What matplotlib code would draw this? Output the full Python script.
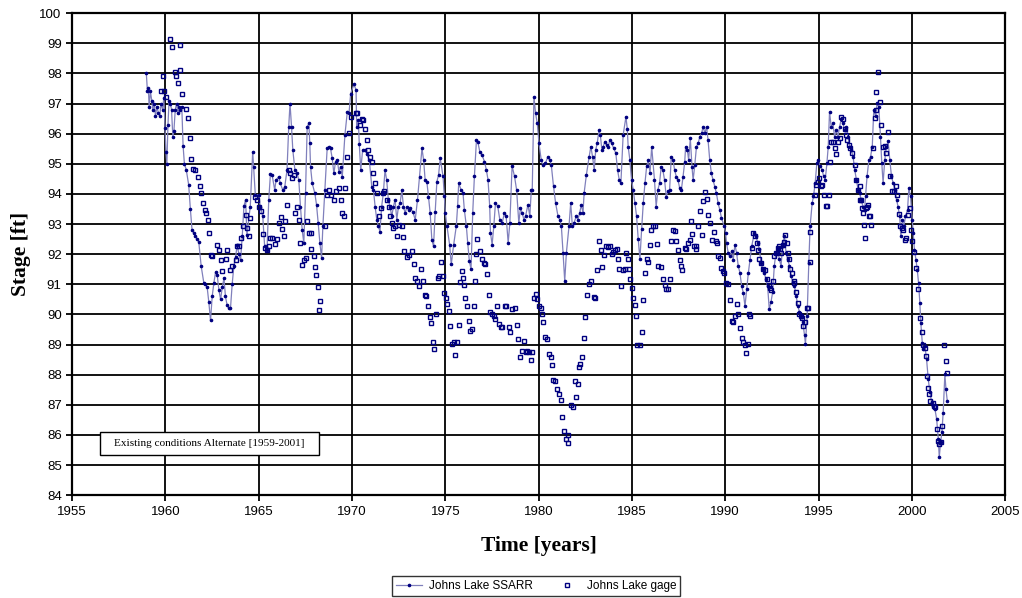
import matplotlib
matplotlib.use("Agg")
import matplotlib.pyplot as plt
from matplotlib.patches import Rectangle

# Johns Lake SSARR (simulated stage, ft)
ssarr_year = [
    1958.98, 1959.04, 1959.09, 1959.13, 1959.20, 1959.27, 1959.33, 1959.40, 1959.47, 1959.55,
    1959.62, 1959.70, 1959.77, 1959.85, 1959.92, 1959.98, 1960.03, 1960.08, 1960.14, 1960.20,
    1960.27, 1960.33, 1960.40, 1960.46, 1960.53, 1960.60, 1960.67, 1960.74, 1960.81, 1960.88,
    1960.95, 1961.02, 1961.12, 1961.25, 1961.34, 1961.43, 1961.52, 1961.61, 1961.70, 1961.79,
    1961.92, 1962.06, 1962.15, 1962.24, 1962.33, 1962.42, 1962.51, 1962.60, 1962.69, 1962.78,
    1962.87, 1962.96, 1963.05, 1963.14, 1963.22, 1963.31, 1963.40, 1963.49, 1963.58, 1963.67,
    1963.76, 1963.85, 1963.94, 1964.03, 1964.12, 1964.21, 1964.30,
    1964.37, 1964.55, 1964.68, 1964.73, 1964.82, 1965.00, 1965.09, 1965.22, 1965.32, 1965.45,
    1965.54, 1965.63, 1965.72, 1965.86, 1965.93, 1966.07, 1966.16, 1966.29, 1966.40, 1966.52,
    1966.61, 1966.68, 1966.76, 1966.83, 1966.94, 1967.06, 1967.15, 1967.24, 1967.33, 1967.42,
    1967.51, 1967.60, 1967.69, 1967.74, 1967.78, 1967.87, 1968.01, 1968.10, 1968.19, 1968.28,
    1968.37, 1968.44, 1968.55, 1968.67, 1968.76, 1968.85, 1968.94, 1969.03, 1969.12, 1969.21,
    1969.30, 1969.39, 1969.48, 1969.62, 1969.75, 1969.84, 1969.93,
    1970.11, 1970.22, 1970.25, 1970.34, 1970.39, 1970.47, 1970.57, 1970.70, 1970.79, 1970.93,
    1971.06, 1971.15, 1971.24, 1971.33, 1971.42, 1971.50, 1971.59, 1971.68, 1971.77, 1971.86,
    1971.95, 1972.04, 1972.13, 1972.22, 1972.31, 1972.40, 1972.49, 1972.58, 1972.67, 1972.76,
    1972.85, 1972.94, 1973.03, 1973.12, 1973.26, 1973.39, 1973.51, 1973.62, 1973.75, 1973.84,
    1973.92, 1974.01, 1974.10, 1974.19, 1974.28, 1974.37, 1974.46, 1974.55, 1974.64, 1974.73,
    1974.88, 1974.95, 1975.00, 1975.09, 1975.23, 1975.32, 1975.45, 1975.59, 1975.66, 1975.72,
    1975.84, 1975.95, 1976.02, 1976.13, 1976.20, 1976.29, 1976.38, 1976.47, 1976.56, 1976.67,
    1976.74, 1976.85, 1976.97, 1977.10, 1977.20, 1977.29, 1977.38, 1977.42, 1977.51, 1977.60,
    1977.69, 1977.81, 1977.92, 1978.05, 1978.17, 1978.26, 1978.37, 1978.46, 1978.58, 1978.71,
    1978.82, 1978.94, 1979.03, 1979.12, 1979.21, 1979.30, 1979.43, 1979.53, 1979.61, 1979.66,
    1979.75, 1979.84, 1979.93, 1980.02,
    1980.14, 1980.23, 1980.37, 1980.50, 1980.59, 1980.68, 1980.80, 1980.91, 1981.04, 1981.13,
    1981.22, 1981.31, 1981.40, 1981.49, 1981.63, 1981.72, 1981.81, 1981.90, 1982.02, 1982.11,
    1982.20, 1982.29, 1982.38, 1982.44, 1982.56, 1982.71, 1982.80, 1982.89, 1982.98, 1983.06,
    1983.14, 1983.24, 1983.31, 1983.39, 1983.46, 1983.55, 1983.64, 1983.73, 1983.82, 1983.91,
    1984.03, 1984.14, 1984.23, 1984.32, 1984.41, 1984.53, 1984.68, 1984.75, 1984.80, 1984.89,
    1984.98, 1985.07, 1985.16, 1985.25, 1985.34, 1985.43, 1985.52, 1985.61, 1985.70, 1985.79,
    1985.88, 1985.97, 1986.06,
    1986.21, 1986.30, 1986.39, 1986.48, 1986.57, 1986.66, 1986.75, 1986.84, 1986.93, 1987.02,
    1987.11, 1987.20, 1987.29, 1987.38, 1987.47, 1987.56, 1987.65, 1987.74, 1987.83, 1987.88,
    1987.97, 1988.04, 1988.13, 1988.22, 1988.28, 1988.37, 1988.46, 1988.55, 1988.64, 1988.73,
    1988.82, 1988.91, 1989.00, 1989.08, 1989.17, 1989.26, 1989.35, 1989.44, 1989.53, 1989.62,
    1989.71, 1989.80, 1989.95, 1990.02, 1990.07, 1990.16, 1990.25, 1990.34, 1990.43, 1990.52,
    1990.61, 1990.70, 1990.79, 1990.88, 1990.97, 1991.06, 1991.15, 1991.24, 1991.33, 1991.42,
    1991.56, 1991.65, 1991.74, 1991.83, 1991.92, 1992.00, 1992.09, 1992.18, 1992.27, 1992.36,
    1992.45, 1992.54, 1992.63, 1992.72, 1992.81, 1992.90, 1992.99, 1993.08, 1993.17, 1993.26,
    1993.35, 1993.44, 1993.53, 1993.62, 1993.71, 1993.80, 1993.89, 1993.98, 1994.07, 1994.16,
    1994.25, 1994.30, 1994.39, 1994.48, 1994.55, 1994.66, 1994.73, 1994.82, 1994.91, 1994.98,
    1995.09, 1995.20, 1995.27, 1995.36, 1995.45, 1995.52, 1995.59, 1995.68, 1995.77, 1995.86,
    1995.95, 1996.04, 1996.13, 1996.22, 1996.31, 1996.40, 1996.49, 1996.58, 1996.67, 1996.76,
    1996.85, 1996.94, 1997.03, 1997.12,
    1997.20, 1997.29, 1997.38, 1997.47, 1997.52, 1997.60, 1997.70, 1997.79, 1997.88, 1997.96,
    1998.06, 1998.14, 1998.23, 1998.32, 1998.39, 1998.46, 1998.55, 1998.64, 1998.73, 1998.82,
    1998.91, 1999.00, 1999.09, 1999.18, 1999.26, 1999.35, 1999.41, 1999.50, 1999.57, 1999.66,
    1999.77, 1999.84, 1999.93, 2000.02, 2000.07, 2000.14, 2000.22, 2000.29, 2000.36, 2000.43,
    2000.48, 2000.56, 2000.61, 2000.70, 2000.79, 2000.88, 2000.97, 2001.06, 2001.15, 2001.24,
    2001.33, 2001.42, 2001.47, 2001.54, 2001.61, 2001.68, 2001.77, 2001.83, 2001.90,
]
ssarr_stage = [
    98.0, 97.4, 97.5, 96.9, 97.4, 97.1, 96.8, 97.0, 96.6, 96.9,
    96.7, 96.6, 97.0, 96.8, 97.2, 96.2, 95.4, 95.0, 96.3, 97.1,
    97.0, 96.8, 95.9, 96.1, 96.8, 97.0, 96.7, 96.9, 96.8, 96.9,
    95.6, 95.0, 94.8, 94.3, 93.5, 92.8, 92.7, 92.6, 92.5, 92.4,
    91.6, 91.05, 91.0, 90.9, 90.4, 89.8, 90.6, 91.05, 91.4, 91.3,
    90.8, 90.5, 90.9, 91.2, 90.6, 90.3, 90.2, 90.2, 91.0, 91.6,
    91.9, 92.3, 92.0, 91.8, 92.6, 93.6, 93.8,
    92.64, 93.58, 95.40, 94.9, 93.97, 93.97, 93.58, 93.25, 92.26, 92.15,
    93.8, 94.66, 94.63, 94.13, 94.46, 94.57, 94.35, 94.13, 94.24, 94.8,
    96.23, 97.0, 96.23, 95.46, 94.8, 94.68, 94.46, 93.58, 92.81, 92.37,
    94.02, 96.23, 96.34, 95.68, 94.9, 94.35, 94.02, 93.64, 93.03, 92.37,
    91.87, 92.92, 94.13, 95.51, 95.57, 95.51, 95.18, 94.68, 95.07, 95.13,
    94.74, 94.9, 94.57, 95.95, 96.72, 96.67, 97.33,
    97.64, 97.44, 96.22, 96.45, 95.67, 94.79, 95.45, 95.45, 95.34, 95.12,
    94.24, 94.13, 93.58, 93.14, 92.92, 92.75, 93.58, 94.02, 94.79, 94.46,
    93.8, 93.58, 93.25, 93.58, 93.8, 93.14, 93.58, 93.69, 94.13, 93.58,
    93.36, 93.58, 93.47, 93.52, 93.41, 93.14, 93.8, 94.57, 95.51, 95.12,
    94.46, 94.41, 93.91, 93.36, 92.48, 92.26, 93.41, 94.41, 94.63, 95.18,
    94.58, 93.92, 93.37, 92.93, 92.32, 91.66, 92.32, 92.93, 93.59, 94.36,
    94.14, 94.03, 93.48, 92.93, 92.38, 91.77, 91.5, 93.37, 94.58, 95.79,
    95.73, 95.4, 95.29, 95.07, 94.8, 94.47, 93.59, 92.71, 92.32, 92.93,
    93.7, 93.59, 93.15, 93.04, 93.37, 93.26, 92.38, 93.04, 94.93, 94.58,
    94.14, 93.04, 93.53, 93.37, 93.15, 93.26, 93.64, 93.26, 94.14, 94.14,
    97.22, 96.67, 96.34, 95.68,
    95.13, 94.96, 95.02, 95.24, 95.13, 94.96, 94.25, 93.7, 93.26, 93.15,
    92.93, 92.05, 91.11, 92.05, 92.93, 93.7, 92.93, 93.04, 93.26, 93.15,
    93.37, 93.64, 93.37, 94.03, 94.63, 95.24, 95.57, 95.24, 94.8, 95.46,
    95.68, 96.12, 95.95, 95.46, 95.57, 95.73, 95.62, 95.57, 95.79, 95.68,
    95.51, 95.35, 94.8, 94.47, 94.36, 95.95, 96.56, 96.17, 95.57, 95.13,
    94.47, 94.14, 93.7, 93.26, 92.49, 91.83, 92.82, 93.7, 94.36, 94.91,
    95.13, 94.69, 95.57,
    94.46, 93.58, 94.13, 94.35, 94.9, 94.79, 94.46, 93.91, 94.08, 94.13,
    95.24, 95.13, 94.79, 94.57, 94.46, 94.19, 94.13, 94.57, 95.07, 95.57,
    95.46, 95.13, 95.84, 94.9, 94.46, 94.96, 95.57, 95.68, 95.9, 96.01,
    96.23, 96.01, 96.23, 95.79, 95.13, 94.68, 94.46, 94.24, 94.02, 93.69,
    93.47, 93.2, 92.92, 92.7, 92.37, 92.04, 91.93, 92.09, 91.82, 92.31,
    92.04, 91.6, 91.38, 90.94, 90.72, 90.27, 90.83, 91.38, 91.82, 92.26,
    92.71, 92.6, 92.38, 92.16, 91.72, 91.5, 91.39, 91.17, 90.95, 90.18,
    90.4, 90.73, 91.61, 92.05, 92.16, 91.83, 91.61, 92.27, 92.6, 92.05,
    91.83, 91.61, 91.28, 91.06, 90.95, 90.62, 90.29, 90.07, 89.96, 89.74,
    89.3, 89.02, 89.96, 91.72, 92.93, 93.7, 93.92, 94.36, 95.02, 95.13,
    94.91, 94.8, 94.58, 94.47, 95.02, 95.57, 96.72, 96.23, 96.34, 95.9,
    96.12, 95.9, 96.23, 96.5, 96.34, 96.12, 96.23, 95.9, 95.57, 95.46,
    95.24, 94.8, 94.47, 94.14,
    94.03, 93.81, 93.58, 93.47, 93.92, 94.58, 95.13, 95.24, 95.57, 96.79,
    96.57, 97.01, 96.9, 95.9, 95.02, 94.36, 95.13, 95.57, 95.74, 95.13,
    94.58, 94.36, 94.14, 93.81, 93.58, 93.25, 92.59, 93.14, 92.92, 93.25,
    93.47, 94.19, 93.92, 93.14, 92.7, 92.15, 91.82, 91.49, 91.05, 90.38,
    89.72, 89.06, 88.84, 88.95, 88.51, 87.85, 87.41, 87.08, 86.96, 86.85,
    86.52, 85.86, 85.25, 85.75, 86.08, 86.74, 88.01, 87.51, 87.13,
]

# Johns Lake gage (observed stage, ft)
gage_year = [
    1959.77, 1959.86, 1959.95, 1960.05, 1960.27, 1960.36, 1960.50, 1960.57, 1960.66, 1960.77,
    1960.81, 1960.90, 1961.08, 1961.22, 1961.31, 1961.40, 1961.49, 1961.61, 1961.76, 1961.83,
    1961.92, 1962.01, 1962.10, 1962.19, 1962.28, 1962.35, 1962.42, 1962.51, 1962.78, 1962.87,
    1962.96, 1963.05, 1963.23, 1963.28, 1963.49, 1963.58, 1963.76, 1963.82, 1963.94, 1964.03,
    1964.18, 1964.30, 1964.39, 1964.48,
    1964.55, 1964.82, 1964.91, 1965.04, 1965.14, 1965.23, 1965.36, 1965.45, 1965.54, 1965.63,
    1965.72, 1965.86, 1965.99, 1966.08, 1966.17, 1966.26, 1966.35, 1966.43, 1966.52, 1966.61,
    1966.70, 1966.79, 1966.88, 1966.97, 1967.06, 1967.15, 1967.24, 1967.33, 1967.42, 1967.51,
    1967.60, 1967.69, 1967.78, 1967.83, 1967.96, 1968.01, 1968.08, 1968.17, 1968.23, 1968.28,
    1968.55, 1968.67, 1968.76, 1968.85, 1969.03, 1969.12, 1969.30, 1969.39, 1969.48, 1969.57,
    1969.62, 1969.75, 1969.84, 1969.93, 1970.20,
    1970.29, 1970.43, 1970.52, 1970.61, 1970.70, 1970.79, 1970.88, 1970.97, 1971.06, 1971.11,
    1971.24, 1971.36, 1971.47, 1971.54, 1971.65, 1971.72, 1971.86, 1972.01, 1972.04, 1972.13,
    1972.22, 1972.31, 1972.40, 1972.54, 1972.67, 1972.76, 1972.81, 1972.94, 1973.08, 1973.21,
    1973.30, 1973.39, 1973.48, 1973.60, 1973.69, 1973.80, 1973.92, 1973.98, 1974.07, 1974.16,
    1974.23, 1974.34, 1974.41, 1974.50, 1974.59, 1974.68, 1974.77, 1974.87, 1974.95, 1975.02,
    1975.09, 1975.18, 1975.27, 1975.36,
    1975.45, 1975.54, 1975.63, 1975.72, 1975.81, 1975.90, 1975.95, 1976.02, 1976.08, 1976.17,
    1976.26, 1976.35, 1976.44, 1976.53, 1976.61, 1976.63, 1976.70, 1976.84, 1976.97, 1977.06,
    1977.15, 1977.24, 1977.33, 1977.42, 1977.51, 1977.60, 1977.69, 1977.78, 1977.87, 1977.96,
    1978.05, 1978.19, 1978.28, 1978.40, 1978.49, 1978.58, 1978.71, 1978.82, 1978.89, 1979.00,
    1979.12, 1979.21, 1979.30, 1979.39, 1979.48, 1979.57, 1979.66, 1979.75, 1979.84, 1979.93,
    1980.02, 1980.11, 1980.20, 1980.25, 1980.32, 1980.43, 1980.55, 1980.64, 1980.73,
    1980.78, 1980.89, 1980.96, 1981.10, 1981.19, 1981.28, 1981.37, 1981.46, 1981.55, 1981.60,
    1981.73, 1981.85, 1981.96, 1981.99, 1982.09, 1982.14, 1982.21, 1982.32, 1982.41, 1982.50,
    1982.57, 1982.68, 1982.80, 1982.98,
    1983.01, 1983.14, 1983.23, 1983.32, 1983.41, 1983.49, 1983.60, 1983.73, 1983.82, 1983.91,
    1984.00, 1984.09, 1984.18, 1984.27, 1984.32, 1984.44, 1984.53, 1984.62, 1984.71, 1984.77,
    1984.86, 1984.89, 1984.98, 1985.04, 1985.16, 1985.22, 1985.29, 1985.43, 1985.52, 1985.61,
    1985.70, 1985.79, 1985.88, 1985.97, 1986.02, 1986.15, 1986.24, 1986.33, 1986.42,
    1986.58, 1986.67, 1986.76, 1986.85, 1986.94, 1987.03, 1987.12, 1987.21, 1987.30, 1987.38,
    1987.47, 1987.56, 1987.65, 1987.71, 1987.83, 1987.92, 1988.01, 1988.10, 1988.15, 1988.23,
    1988.33, 1988.41, 1988.46, 1988.55, 1988.64, 1988.73, 1988.82, 1988.91, 1989.00, 1989.09,
    1989.18, 1989.30, 1989.41, 1989.48, 1989.57, 1989.62, 1989.71, 1989.80, 1989.89, 1989.95,
    1990.02, 1990.16, 1990.25, 1990.34, 1990.43, 1990.52, 1990.61, 1990.70, 1990.79, 1990.91,
    1990.97, 1991.06, 1991.11, 1991.20, 1991.27, 1991.34, 1991.42, 1991.50, 1991.59, 1991.68,
    1991.76, 1991.83, 1991.94, 1992.04, 1992.15, 1992.22, 1992.33, 1992.40, 1992.47, 1992.55,
    1992.63, 1992.72, 1992.81, 1992.87, 1992.94, 1992.99, 1993.08, 1993.17, 1993.23, 1993.30,
    1993.35, 1993.41, 1993.48, 1993.58, 1993.66, 1993.71, 1993.80, 1993.89, 1993.98, 1994.07,
    1994.12, 1994.19, 1994.30, 1994.39, 1994.46, 1994.52, 1994.57, 1994.79, 1994.88, 1994.96,
    1995.05, 1995.11, 1995.16, 1995.27, 1995.38, 1995.45, 1995.56, 1995.63, 1995.68, 1995.77,
    1995.86, 1995.95, 1996.04, 1996.13, 1996.22, 1996.31, 1996.40, 1996.45, 1996.52, 1996.63,
    1996.70, 1996.81, 1996.93, 1997.02, 1997.11,
    1997.20, 1997.24, 1997.29, 1997.35, 1997.38, 1997.42, 1997.47, 1997.53, 1997.60, 1997.65,
    1997.71, 1997.78, 1997.83, 1997.92, 1998.01, 1998.07, 1998.10, 1998.19, 1998.28, 1998.37,
    1998.46, 1998.55, 1998.64, 1998.73, 1998.85, 1998.96, 1999.03, 1999.14, 1999.21, 1999.32,
    1999.39, 1999.46, 1999.53, 1999.62, 1999.71, 1999.80, 1999.89, 1999.94, 2000.03, 2000.10,
    2000.25, 2000.34, 2000.43, 2000.52, 2000.61, 2000.70, 2000.75, 2000.82, 2000.88, 2000.93,
    2001.00, 2001.11, 2001.18, 2001.24, 2001.33, 2001.42, 2001.47, 2001.54, 2001.61, 2001.72,
    2001.81, 2001.86,
]
gage_stage = [
    97.41, 97.9, 97.41, 97.22, 99.14, 98.89, 98.04, 97.9, 97.68, 98.94,
    98.1, 97.33, 96.83, 96.52, 95.84, 95.16, 94.83, 94.79, 94.57, 94.26,
    94.02, 93.69, 93.47, 93.36, 93.14, 92.7, 91.98, 91.93, 92.31, 92.15,
    91.8, 91.43, 91.84, 92.15, 91.49, 91.6, 91.8, 92.26, 92.28, 92.54,
    92.92, 93.31, 92.87, 92.59,
    93.2, 93.91, 93.8, 93.58, 93.42, 92.68, 92.2, 92.15, 92.26, 92.53,
    92.53, 92.35, 92.5, 93.03, 93.23, 92.83, 92.59, 93.09, 93.64, 94.79,
    94.68, 94.52, 94.63, 93.36, 93.58, 93.14, 92.37, 91.65, 91.82, 91.87,
    93.09, 92.7, 92.7, 92.17, 91.93, 91.58, 91.32, 90.91, 90.16, 90.44,
    92.92, 93.97, 94.13, 93.97, 93.8, 94.08, 94.19, 93.8, 93.36, 93.25,
    94.19, 95.24, 96.01, 96.56, 96.67,
    96.69, 96.28, 96.47, 96.45, 96.17, 95.78, 95.45, 95.23, 95.07, 94.68,
    94.35, 94.02, 93.25, 93.52, 94.02, 94.08, 93.8, 93.58, 93.25, 93.05,
    92.86, 92.92, 92.59, 92.97, 92.92, 92.56, 92.09, 91.92, 91.98, 92.09,
    91.68, 91.21, 91.1, 90.93, 91.51, 91.1, 90.66, 90.62, 90.29, 89.92,
    89.72, 89.08, 88.84, 90.0, 91.21, 91.26, 91.73, 91.26, 90.71, 90.55,
    90.33, 90.11, 89.61, 89.02,
    89.08, 88.64, 89.08, 89.65, 91.08, 91.44, 91.22, 90.97, 90.54, 90.29,
    89.79, 89.46, 89.52, 90.29, 91.11, 91.99, 92.49, 92.1, 91.83, 91.72,
    91.66, 91.33, 90.64, 90.07, 90.01, 89.96, 89.85, 90.29, 89.68, 89.57,
    89.57, 90.29, 90.29, 89.57, 89.43, 90.18, 90.2, 89.65, 89.19, 88.58,
    88.8, 89.13, 88.75, 88.8, 88.75, 88.47, 88.75, 90.56, 90.67, 90.51,
    90.29, 90.2, 90.01, 89.74, 89.24, 89.19, 88.69, 88.58, 88.31,
    87.83, 87.8, 87.52, 87.36, 87.16, 86.58, 86.14, 85.85, 85.73, 86.0,
    86.99, 86.92, 87.8, 87.25, 87.69, 88.27, 88.35, 88.57, 89.2, 89.9,
    90.64, 91.0, 91.11, 90.59,
    90.56, 91.47, 92.42, 92.14, 91.58, 91.97, 92.27, 92.24, 92.27, 92.0,
    92.07, 92.13, 92.16, 91.83, 91.52, 90.95, 91.48, 91.5, 92.05, 91.83,
    91.52, 91.19, 90.89, 90.53, 90.31, 89.96, 88.99, 88.97, 89.43, 90.49,
    91.39, 91.83, 91.74, 92.32, 92.8, 92.93, 92.95, 92.35, 91.61,
    91.58, 91.16, 90.99, 90.85, 90.83, 91.16, 92.42, 92.79, 92.76, 92.42,
    92.15, 91.8, 91.62, 91.47, 92.2, 92.17, 92.37, 92.48, 93.09, 92.68,
    92.26, 92.28, 92.18, 92.94, 93.42, 92.64, 93.75, 94.05, 93.82, 93.31,
    93.05, 92.48, 92.72, 92.42, 92.37, 91.93, 91.87, 91.54, 91.43, 91.38,
    91.05, 91.01, 90.47, 89.78, 89.75, 89.94, 90.36, 90.0, 89.56, 89.23,
    89.08, 88.97, 88.71, 89.01, 90.0, 89.94, 92.2, 92.7, 92.59, 92.37,
    92.14, 91.83, 91.72, 91.52, 91.48, 91.19, 90.97, 90.86, 90.82, 91.11,
    91.94, 92.05, 92.21, 92.27, 92.16, 92.05, 92.29, 92.4, 92.64, 92.36,
    92.05, 91.83, 91.52, 91.37, 91.11, 91.04, 90.75, 90.38, 90.01, 89.94,
    89.87, 89.63, 89.76, 90.2, 90.2, 91.74, 92.73, 93.97, 94.3, 94.41,
    94.52, 94.25, 94.3, 93.97, 93.61, 93.59, 93.97, 95.07, 95.73, 95.73,
    95.51, 95.33, 95.73, 95.84, 96.54, 96.47, 96.14, 95.95, 95.79, 95.62,
    95.51, 95.37, 94.96, 94.45, 94.14,
    94.25, 93.81, 93.81, 93.53, 93.36, 92.98, 92.54, 93.53, 93.58, 93.64,
    93.25, 93.25, 92.98, 95.54, 96.51, 96.79, 97.37, 98.06, 97.06, 96.29,
    95.55, 95.59, 95.35, 96.07, 94.58, 94.08, 94.08, 94.25, 93.97, 93.34,
    92.94, 92.87, 92.81, 92.48, 92.54, 93.31, 93.53, 92.81, 92.43, 92.06,
    91.54, 90.83, 89.89, 89.41, 89.0, 88.89, 88.62, 87.96, 87.57, 87.35,
    87.13, 87.07, 86.96, 86.91, 86.19, 85.8, 85.69, 85.75, 86.3, 88.98,
    88.45, 88.07,
]

x_ticks = [1955, 1960, 1965, 1970, 1975, 1980, 1985, 1990, 1995, 2000, 2005]
y_ticks = list(range(84, 101))

navy = '#000080'

fig = plt.figure(figsize=(10.22, 5.98), dpi=100)
ax = fig.add_axes([0.0705, 0.172, 0.913, 0.806])

ax.plot(ssarr_year, ssarr_stage, color='#8080bc', lw=0.9, marker='.', ms=3.2,
        mfc=navy, mec=navy, label='Johns Lake SSARR', zorder=3)
ax.plot(gage_year, gage_stage, ls='none', marker='s', ms=3.4, mfc='none',
        mec=navy, mew=1.0, label='Johns Lake gage', zorder=4)

ax.set_xlim(1955, 2005)
ax.set_ylim(84, 100)
ax.set_xticks(x_ticks)
ax.set_yticks(y_ticks)
ax.grid(True, color='black', lw=1.3)
ax.set_axisbelow(True)
for s in ax.spines.values():
    s.set_linewidth(1.6)
    s.set_color('black')
ax.tick_params(direction='out', length=4, width=1.3, labelsize=9.5)
for lab in ax.get_xticklabels() + ax.get_yticklabels():
    lab.set_family('Liberation Sans')

ax.set_xlabel('Time [years]', family='Liberation Serif', weight='bold',
              fontsize=15.5, labelpad=13)
ax.set_ylabel('Stage [ft]', family='Liberation Serif', weight='bold',
              fontsize=15.5, labelpad=6)

# annotation box
ax.add_patch(Rectangle((0.030, 0.083), 0.2347, 0.0477, transform=ax.transAxes,
                       fc='white', ec='black', lw=1.0, zorder=6))
ax.text(0.1473, 0.107, 'Existing conditions Alternate [1959-2001]',
        transform=ax.transAxes, ha='center', va='center',
        family='Liberation Serif', fontsize=8.1, zorder=7)

leg = fig.legend(loc='center', bbox_to_anchor=(0.5245, 0.02), ncol=2,
                 frameon=True, fancybox=False, edgecolor='black',
                 prop={'family': 'Liberation Sans', 'size': 8.5},
                 handlelength=2.2, columnspacing=1.8, borderpad=0.3,
                 handletextpad=0.6)
leg.get_frame().set_linewidth(1.0)

fig.savefig('out.png', dpi=100)
